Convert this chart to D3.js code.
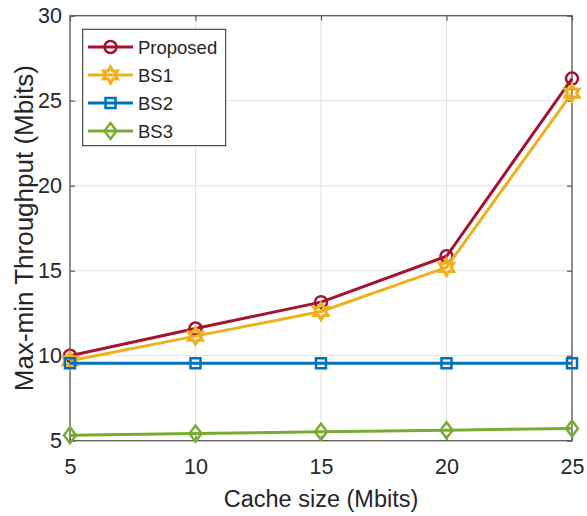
<!DOCTYPE html>
<html><head><meta charset="utf-8">
<script src="https://cdn.jsdelivr.net/npm/d3@7"></script>
<style>
html,body{margin:0;padding:0;background:#fff;}
text{font-family:"Liberation Sans",Arial,Helvetica,sans-serif;fill:#262626;}
</style></head>
<body><svg id="c" width="587" height="516"></svg>
<script>
const cacheSizes = [5, 10, 15, 20, 25];
const proposed = [10.0, 11.6, 13.15, 15.85, 26.3];
const bs1 = [9.7, 11.15, 12.6, 15.2, 25.45];
const bs2 = [9.55, 9.55, 9.55, 9.55, 9.55];
const bs3 = [5.32, 5.42, 5.52, 5.62, 5.72];
const seriesNames = ["Proposed", "BS1", "BS2", "BS3"];
const xTicks = [5, 10, 15, 20, 25];
const yTicks = [5, 10, 15, 20, 25, 30];
const xLabel = "Cache size (Mbits)";
const yLabel = "Max-min Throughput (Mbits)";

const colors = ["#A2142F", "#EDB120", "#0072BD", "#77AC30"];
const markers = ["circle", "hexagram", "square", "diamond"];
const seriesValues = [proposed, bs1, bs2, bs3];

const svg = d3.select("#c");
const L = 70, R = 572, T = 15.7, B = 440.7;
const x = d3.scaleLinear().domain([5, 25]).range([L, R]);
const y = d3.scaleLinear().domain([5, 30]).range([B, T]);

// grid
const g = svg.append("g");
g.selectAll(".gx").data(xTicks).enter().append("line")
  .attr("x1", d => x(d)).attr("x2", d => x(d)).attr("y1", T).attr("y2", B)
  .attr("stroke", "#e3e3e3").attr("stroke-width", 1);
g.selectAll(".gy").data(yTicks).enter().append("line")
  .attr("y1", d => y(d)).attr("y2", d => y(d)).attr("x1", L).attr("x2", R)
  .attr("stroke", "#e3e3e3").attr("stroke-width", 1);

// axes via d3
const axisColor = "#5a5a5a";
function styleAxis(sel) {
  sel.select(".domain").remove();
  sel.selectAll(".tick line").attr("stroke", axisColor).attr("stroke-width", 1.2);
  sel.selectAll(".tick text").attr("font-size", 21.5).attr("fill", "#262626")
    .attr("font-family", '"Liberation Sans",Arial,sans-serif');
}
svg.append("g").attr("transform", `translate(0,${B})`)
  .call(d3.axisBottom(x).tickValues(xTicks).tickSize(-5).tickPadding(18).tickFormat(d3.format("d")))
  .call(styleAxis);
svg.append("g").attr("transform", `translate(0,${T})`)
  .call(d3.axisTop(x).tickValues(xTicks).tickSize(-5).tickFormat(""))
  .call(styleAxis);
svg.append("g").attr("transform", `translate(${L},0)`)
  .call(d3.axisLeft(y).tickValues(yTicks).tickSize(-5).tickPadding(8).tickFormat(d3.format("d")))
  .call(styleAxis);
svg.append("g").attr("transform", `translate(${R},0)`)
  .call(d3.axisRight(y).tickValues(yTicks).tickSize(-5).tickFormat(""))
  .call(styleAxis);

// box
svg.append("rect").attr("x", L).attr("y", T).attr("width", R - L).attr("height", B - T)
  .attr("fill", "none").attr("stroke", axisColor).attr("stroke-width", 1.3);

// marker paths
function hexagram(r) {
  const pts = [];
  for (let i = 0; i < 12; i++) {
    const a = -Math.PI / 2 + i * Math.PI / 6;
    const rr = i % 2 === 0 ? r : r * 0.577;
    pts.push([rr * Math.cos(a), rr * Math.sin(a)]);
  }
  return "M" + pts.map(p => p.join(",")).join("L") + "Z";
}
function markerPath(type) {
  switch (type) {
    case "circle": return d3.symbol(d3.symbolCircle, Math.PI * 6 * 6)();
    case "square": return "M-5,-5L5,-5L5,5L-5,5Z";
    case "diamond": return "M0,-8L6,0L0,8L-6,0Z";
    case "hexagram": return hexagram(8);
  }
}

const line = d3.line().x(d => x(d[0])).y(d => y(d[1]));
const plot = svg.append("g");
seriesValues.forEach((vals, i) => {
  const data = cacheSizes.map((c, j) => [c, vals[j]]);
  plot.append("path").datum(data).attr("d", line)
    .attr("fill", "none").attr("stroke", colors[i]).attr("stroke-width", 3)
    .attr("stroke-linejoin", "round");
  plot.selectAll(null).data(data).enter().append("path")
    .attr("d", markerPath(markers[i]))
    .attr("transform", d => `translate(${x(d[0])},${y(d[1])})`)
    .attr("fill", "none").attr("stroke", colors[i])
    .attr("stroke-width", markers[i] === "hexagram" ? 3.2 : 2.5);
});

// axis labels
svg.append("text").attr("x", (L + R) / 2).attr("y", 507).attr("text-anchor", "middle")
  .attr("font-size", 23.5).text(xLabel);
svg.append("text").attr("transform", `translate(32.5,${(T + B) / 2}) rotate(-90)`)
  .attr("text-anchor", "middle").attr("font-size", 26).text(yLabel);

// legend
const lg = svg.append("g");
lg.append("rect").attr("x", 82.7).attr("y", 29.3).attr("width", 143).attr("height", 116.4)
  .attr("fill", "#fff").attr("stroke", "#262626").attr("stroke-width", 1);
const legendY = [47, 75, 103, 131];
seriesNames.forEach((name, i) => {
  const yy = legendY[i];
  lg.append("line").attr("x1", 88).attr("x2", 133).attr("y1", yy).attr("y2", yy)
    .attr("stroke", colors[i]).attr("stroke-width", 3);
  lg.append("path").attr("d", markerPath(markers[i]))
    .attr("transform", `translate(110.5,${yy})`)
    .attr("fill", "none").attr("stroke", colors[i])
    .attr("stroke-width", markers[i] === "hexagram" ? 3.2 : 2.5);
  lg.append("text").attr("x", 138).attr("y", yy).attr("dy", "0.36em")
    .attr("font-size", 18.5).text(name);
});
</script></body></html>
